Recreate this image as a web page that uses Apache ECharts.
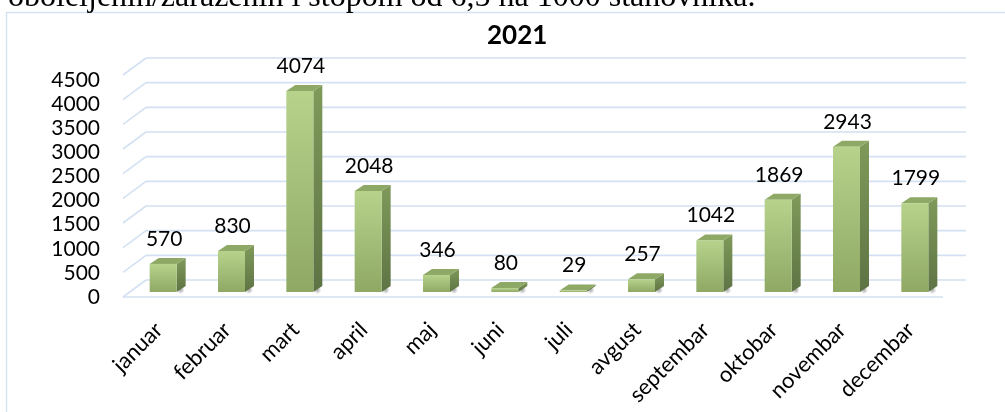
<!DOCTYPE html>
<html>
<head>
<meta charset="utf-8">
<script src="https://cdn.jsdelivr.net/npm/echarts@6/dist/echarts.min.js"></script>
<style>
  html, body { margin: 0; padding: 0; background: #fff; }
  #chart { width: 1005px; height: 412px; }
</style>
</head>
<body>
<div id="chart"></div>
<script>
const categories = ["januar", "februar", "mart", "april", "maj", "juni", "juli", "avgust", "septembar", "oktobar", "novembar", "decembar"];
const values = [570, 830, 4074, 2048, 346, 80, 29, 257, 1042, 1869, 2943, 1799];
const yTicks = [0, 500, 1000, 1500, 2000, 2500, 3000, 3500, 4000, 4500];
const chartTitle = "2021";
const pageText = "oboleljenih/zaraženih i stopom od 6,5 na 1000 stanovnika.";

const chart = echarts.init(document.getElementById("chart"));

// depth offsets of the 3d look (front floor edge / back wall / bar side)
const FRONT = [-6, 5];
const BACK = [17, -12];
const SIDE = [9, -6];
const gridColor = "#d3e1f2";

const option = {
  backgroundColor: "#fff",
  animation: false,
  title: {
    text: chartTitle,
    left: 487,
    top: 23,
    padding: 0,
    textStyle: { fontFamily: "Lato", fontWeight: "bold", fontSize: 26, color: "#000" },
  },
  graphic: [
    {
      type: "text",
      x: 8,
      y: 14,
      style: {
        text: pageText,
        fontFamily: "Liberation Serif",
        fontSize: 32,
        fill: "#000",
        verticalAlign: "bottom",
      },
    },
    {
      type: "rect",
      shape: { x: 6.5, y: 12.5, width: 1100, height: 500 },
      style: { fill: "#fff", stroke: "#d6e3f3", lineWidth: 1.5 },
      z: -1,
    },
  ],
  grid: [
    { left: 129, right: 56, top: 70, bottom: 120 },
    { left: 129, right: 56, top: 80, bottom: 115 },
  ],
  xAxis: [
    {
      type: "category",
      data: categories,
      gridIndex: 0,
      axisLine: { show: false },
      axisTick: { show: false },
      axisLabel: {
        interval: 0,
        rotate: 45,
        margin: 30,
        padding: [0, 6, 0, 0],
        fontFamily: "Lato",
        fontSize: 22,
        color: "#000",
      },
    },
    { type: "category", data: categories, gridIndex: 1, show: false },
  ],
  yAxis: [
    { type: "value", gridIndex: 0, min: 0, max: 4500, interval: 500, show: false },
    {
      type: "value",
      gridIndex: 1,
      min: 0,
      max: 4500,
      interval: 500,
      axisLine: { show: false },
      axisTick: { show: false },
      splitLine: { show: false },
      axisLabel: {
        margin: 29,
        fontFamily: "Lato",
        fontSize: 21,
        color: "#000",
        formatter: (v) => String(v),
      },
    },
  ],
  series: [
    {
      // back wall + floor lines
      type: "custom",
      xAxisIndex: 0,
      yAxisIndex: 0,
      data: yTicks.map((v) => [0, v]),
      z: 1,
      renderItem: function (params, api) {
        const v = api.value(1);
        const band = api.size([1, 0])[0];
        const l = api.coord([0, v]);
        const r = api.coord([categories.length - 1, v]);
        const left = l[0] - band / 2;
        const right = r[0] + band / 2;
        const y = l[1];
        const style = { stroke: gridColor, lineWidth: 1.6, fill: null };
        const children = [
          { type: "line", shape: { x1: left + BACK[0], y1: y + BACK[1], x2: right + BACK[0], y2: y + BACK[1] }, style },
          { type: "line", shape: { x1: left + FRONT[0], y1: y + FRONT[1], x2: left + BACK[0], y2: y + BACK[1] }, style },
        ];
        if (v === 0) {
          children.push({ type: "line", shape: { x1: left + FRONT[0], y1: y + FRONT[1], x2: right + FRONT[0], y2: y + FRONT[1] }, style });
        }
        return { type: "group", children };
      },
    },
    {
      type: "custom",
      xAxisIndex: 0,
      yAxisIndex: 0,
      data: values.map((v, i) => [i, v]),
      z: 2,
      renderItem: function (params, api) {
        const i = api.value(0);
        const v = api.value(1);
        const top = api.coord([i, v]);
        const base = api.coord([i, 0]);
        const w = api.size([1, 0])[0] * 0.395;
        const x0 = top[0] - w / 2;
        const x1 = top[0] + w / 2;
        const yt = top[1];
        const yb = base[1];
        return {
          type: "group",
          children: [
            {
              type: "ellipse",
              shape: { cx: x1 + 4, cy: yb - 2, rx: w * 1.1, ry: 4 },
              style: {
                fill: new echarts.graphic.RadialGradient(0.5, 0.5, 0.5, [
                  { offset: 0, color: "rgba(60,60,60,0.45)" },
                  { offset: 1, color: "rgba(60,60,60,0)" },
                ]),
              },
            },
            {
              type: "polygon",
              shape: { points: [[x1, yt], [x1 + SIDE[0], yt + SIDE[1]], [x1 + SIDE[0], yb + SIDE[1]], [x1, yb]] },
              style: {
                fill: new echarts.graphic.LinearGradient(0, 0, 0, 1, [
                  { offset: 0, color: "#7f9a5a" },
                  { offset: 1, color: "#5e7344" },
                ]),
              },
            },
            {
              type: "polygon",
              shape: { points: [[x0, yt], [x0 + SIDE[0], yt + SIDE[1]], [x1 + SIDE[0], yt + SIDE[1]], [x1, yt]] },
              style: { fill: "#8ea866" },
            },
            {
              type: "rect",
              shape: { x: x0, y: yt, width: w, height: yb - yt },
              style: {
                fill: new echarts.graphic.LinearGradient(0, 0, 0, 1, [
                  { offset: 0, color: "#b6d28b" },
                  { offset: 1, color: "#8fa965" },
                ]),
              },
            },
            {
              type: "text",
              style: {
                text: String(v),
                x: top[0] + 1,
                y: yt - 25,
                align: "center",
                verticalAlign: "middle",
                fontFamily: "Lato",
                fontSize: 21,
                fill: "#000",
              },
            },
          ],
        };
      },
    },
  ],
};

chart.setOption(option);
window.addEventListener("resize", () => chart.resize());
</script>
</body>
</html>
